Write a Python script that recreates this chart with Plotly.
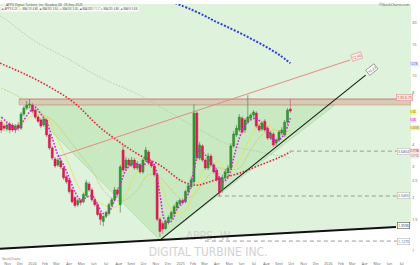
import math
import pandas as pd
import plotly.graph_objects as go

# ---------------- data ----------------
first_week = "2023-10-16"
opens  = [5.39,5.12,4.92,5.25,5.19,4.86,5.19,4.98,5.99,6.48,6.75,6.75,6.31,5.76,5.54,5.19,5.54,4.55,3.84,3.32,
          3.07,3.23,2.95,2.63,2.52,2.21,2.00,1.82,1.92,1.89,2.05,2.39,2.21,1.94,1.82,1.62,1.46,1.56,1.62,1.82,
          1.94,2.21,1.82,3.73,2.95,3.27,3.07,3.27,2.95,3.07,2.80,3.27,3.64,3.19,3.03,2.70,1.50,1.42,1.33,1.44,
          1.52,1.62,1.75,1.85,1.92,1.89,2.16,2.30,2.46,6.07,3.36,3.94,3.27,2.95,3.45,3.07,2.87,2.59,2.21,2.59,
          2.77,2.95,3.94,4.55,4.86,5.68,4.86,5.39,5.68,5.91,6.07,5.12,4.92,5.46,4.98,4.37,4.61,4.09,4.26,4.67,
          4.55,5.39,6.40]
highs  = [5.54,5.25,5.39,5.39,5.32,5.25,5.39,6.15,6.66,7.11,7.30,6.93,6.48,5.91,5.68,5.76,5.68,4.67,3.94,3.41,
          3.36,3.32,3.03,2.70,2.59,2.27,2.05,1.97,1.97,2.13,2.52,2.46,2.27,2.00,1.87,1.66,1.58,1.68,1.87,2.00,
          2.30,2.27,3.07,3.99,3.41,3.36,3.41,3.36,3.23,3.15,3.36,3.89,3.73,3.27,3.11,2.77,1.54,1.46,1.50,1.58,
          1.68,1.82,1.92,1.97,1.97,2.21,2.43,2.63,6.83,6.23,4.15,4.04,3.36,3.59,3.55,3.15,2.95,2.66,2.70,2.91,
          3.07,4.09,4.79,5.19,5.99,5.83,5.68,7.69,6.07,6.31,6.23,5.25,5.46,5.61,5.12,4.79,4.73,4.37,4.86,5.05,
          5.54,6.48,7.30]
lows   = [4.67,4.79,4.79,4.67,4.73,4.67,4.79,4.86,5.83,6.31,6.48,6.07,5.61,5.32,4.98,5.05,4.43,3.73,3.27,2.95,
          2.99,2.91,2.52,2.39,2.10,1.85,1.75,1.77,1.80,1.85,2.00,2.16,1.89,1.77,1.56,1.39,1.37,1.52,1.58,1.77,
          1.89,2.02,1.64,2.80,2.84,2.95,2.99,2.87,2.87,2.73,2.73,3.19,3.07,2.95,2.63,1.46,1.19,1.24,1.30,1.40,
          1.48,1.58,1.71,1.80,1.82,1.85,2.10,2.24,2.39,3.27,3.27,3.19,2.87,2.87,2.99,2.73,2.46,2.02,2.13,2.52,
          2.70,2.87,3.84,4.43,4.73,4.61,4.67,5.25,5.54,5.76,4.98,4.73,4.79,4.73,4.26,4.26,3.89,3.94,4.15,4.55,
          4.43,5.25,6.07]
closes = [4.86,4.98,5.19,4.86,4.86,5.12,4.98,5.99,6.48,6.75,6.83,6.23,5.76,5.46,5.12,5.61,4.55,3.84,3.36,3.03,
          3.27,2.99,2.59,2.46,2.16,1.89,1.80,1.92,1.87,2.08,2.43,2.21,1.94,1.82,1.60,1.50,1.56,1.64,1.82,1.94,
          2.21,2.10,2.99,2.87,3.27,3.07,3.27,2.95,3.11,2.80,3.27,3.73,3.15,3.03,2.70,1.50,1.28,1.32,1.46,1.54,
          1.64,1.77,1.87,1.92,1.87,2.16,2.33,2.52,6.07,3.36,3.99,3.27,2.95,3.45,3.07,2.80,2.52,2.13,2.59,2.80,
          2.95,3.94,4.61,4.98,5.76,4.73,5.54,5.76,5.91,6.15,5.12,4.86,5.32,4.86,4.37,4.67,3.99,4.26,4.73,4.86,
          5.39,6.31,6.23]

ma5_idx  = list(range(0, 103, 2))
ma5_vals = [5.76,5.39,5.05,4.98,5.54,6.15,6.57,5.99,5.39,4.37,3.50,3.07,2.59,2.16,1.94,2.00,2.05,1.82,1.62,1.66,
            1.94,2.36,2.87,3.07,3.11,3.03,3.27,3.07,2.08,1.46,1.46,1.71,1.87,2.10,2.87,3.73,3.50,3.19,2.80,2.46,
            2.59,3.36,4.37,5.19,5.54,5.68,5.25,4.86,4.26,4.26,4.67,5.68]

ma10_idx  = [0,4,8,12,16,20,24,28,32,36,40,44,48,52,56,60,64,68,72,76,80,84,88,92,96,100,102]
ma10_vals = [5.54,5.12,5.39,5.99,5.68,4.26,3.07,2.21,2.00,1.82,1.75,2.08,2.80,3.07,2.46,1.71,1.64,2.08,2.95,3.19,
             2.80,3.27,4.43,5.39,4.98,4.55,4.86]

ma20_idx  = [0,7,12,18,24,28,32,36,40,44,48,52,56,60,64,68,72,76,80,84,88,92,96,100,102]
ma20_vals = [8.44,7.40,6.31,5.54,4.26,3.50,2.87,2.21,1.94,1.94,2.21,2.70,2.59,2.21,1.94,2.08,2.52,2.95,2.87,2.95,
             3.73,4.55,4.86,4.73,4.86]

ma30_dates = ["2023-10-13","2023-12-13","2024-02-13","2024-04-14","2024-06-15","2024-08-03","2024-09-22",
              "2024-11-11","2025-01-07","2025-02-10","2025-03-14","2025-04-15","2025-05-28","2025-07-16",
              "2025-09-03","2025-09-29"]
ma30_vals  = [11.7,10.15,8.55,6.93,5.05,4.15,3.49,3.06,2.46,2.35,2.46,2.59,2.76,3.06,3.40,3.64]

ma50_dates = ["2023-10-13","2023-10-30","2024-01-02","2024-03-26","2024-06-15","2024-09-22","2025-02-18",
              "2025-05-03","2025-07-16","2025-09-29"]
ma50_vals  = [21.8,20.6,15.9,12.5,9.75,7.69,4.86,3.99,3.64,3.36]

ma200_dates = ["2024-12-18","2025-01-24","2025-03-02","2025-03-22","2025-04-21","2025-05-28","2025-07-04",
               "2025-08-05","2025-09-03","2025-09-29"]
ma200_vals  = [25.8,23.9,21.8,20.6,19.1,17.4,15.7,14.3,13.0,11.7]

band_dates = ["2023-11-29", "2026-07-24"]
band_low, band_high = 6.75, 7.30

cup_dates = ["2023-12-13", "2024-11-11", "2026-01-17"]
cup_vals  = [6.76, 1.14, 6.76]

support_dates = ["2023-10-13", "2026-06-17"]
support_vals  = [1.02, 1.355]
support_ext_date, support_ext_val = "2026-07-24", 1.371

rising_dates = ["2024-11-11", "2026-04-03"]
rising_vals  = [1.142, 10.0]

red_trend_dates = ["2024-03-02", "2026-02-23"]
red_trend_vals  = [3.41, 12.2]

hlines = [("2025-09-28", 3.68, "3.6804"), ("2025-04-03", 2.04, "2.0400"), ("2025-03-02", 1.127, "1.1270")]
hline_end = "2026-06-19"

right_labels = [(11.57, "12.78", "#3050e0", "#dfe6ff"), (6.15, "5.96", "#8a7f00", "#f5f07a"),
                (5.54, "5.68", "#c020c0", "#f4d6f4"), (5.0, "5.0058", "#6a6a10", "#f0f0b0"),
                (3.68, "3.7798", "#d02020", "#fadada"), (3.47, "3.0736", "#777777", "#eeeeee")]

legend_items = [("APPS 6.23", "#e8174f"), ("MA(10) 4.86", "#e6e600"), ("MA(30) 3.64", "#e02030"),
                ("MA(50) 3.36", "#aaaaaa"), ("MA(200) 11.7", "#2040e0"), ("MA(20) 4.86", "#b5b54a"),
                ("MA(5) 5.68", "#d020d0")]
legend_px = [1, 19, 39, 59, 79, 100, 120]

month_ticks = pd.date_range("2023-11-01", "2026-07-01", freq="MS")
month_text = ["Nov","Dec","2024","Feb","Mar","Apr","May","Jun","Jul","Aug","Sept","Oct","Nov","Dec",
              "2025","Feb","Mar","Apr","May","Jun","Jul","Aug","Sept","Oct","Nov","Dec",
              "2026","Feb","Mar","Apr","May","Jun","Jul"]
y_ticks = [1, 1.5, 2, 2.5, 3, 4, 8, 10, 15, 20]

# ---------------- figure ----------------
dates = pd.date_range(first_week, periods=len(closes), freq="7D")
x_start, x_end = "2023-10-13", "2026-07-24"
top_val = 40

fig = go.Figure()

# green background above support line
fig.add_trace(go.Scatter(
    x=[support_dates[0], support_dates[1], support_ext_date, support_ext_date, support_dates[0]],
    y=[support_vals[0], support_vals[1], support_ext_val, top_val, top_val],
    fill="toself", fillcolor="#dff2dc", line=dict(width=0), mode="lines", hoverinfo="skip"))

# cup triangle
fig.add_trace(go.Scatter(x=cup_dates + [cup_dates[0]], y=cup_vals + [cup_vals[0]],
    fill="toself", fillcolor="#c8e9c1", line=dict(color="#a6d49e", width=0.6), mode="lines"))

# watermark
fig.add_trace(go.Scatter(x=["2025-03-10", "2025-03-10"], y=[1.19, 0.958], mode="text",
    text=["APPS, W", "DIGITAL TURBINE INC."], cliponaxis=False,
    textfont=dict(family="Liberation Sans Narrow, DejaVu Sans Condensed, Arial", size=12, color="#d2d2d2")))

# resistance band
fig.add_trace(go.Scatter(x=[band_dates[0], band_dates[1], band_dates[1], band_dates[0], band_dates[0]],
    y=[band_low, band_low, band_high, band_high, band_low], fill="toself",
    fillcolor="rgba(200,140,115,0.38)", line=dict(color="rgba(200,130,110,0.7)", width=0.6), mode="lines"))
fig.add_trace(go.Scatter(x=band_dates, y=[band_high, band_high], mode="lines",
    line=dict(color="#d98b80", width=1)))

# horizontal dashed lines
for d, v, t in hlines:
    fig.add_trace(go.Scatter(x=[d, hline_end], y=[v, v], mode="lines",
        line=dict(color="#9a9a9a", width=1, dash="4px,3px")))

# moving averages (behind candles)
fig.add_trace(go.Scatter(x=ma50_dates, y=ma50_vals, mode="lines",
    line=dict(color="#b9c9b0", width=1, dash="1.5px,1.5px", shape="spline")))
fig.add_trace(go.Scatter(x=dates[ma20_idx], y=ma20_vals, mode="lines",
    line=dict(color="#c8c860", width=0.8, dash="2px,1px", shape="spline")))
fig.add_trace(go.Scatter(x=dates[ma10_idx], y=ma10_vals, mode="lines",
    line=dict(color="#e4e44a", width=0.8, shape="spline")))
fig.add_trace(go.Scatter(x=ma30_dates, y=ma30_vals, mode="lines",
    line=dict(color="#e02838", width=1.6, dash="1.6px,1.6px", shape="spline")))
fig.add_trace(go.Scatter(x=ma200_dates, y=ma200_vals, mode="lines",
    line=dict(color="#2a3fe0", width=2, dash="2px,1.6px", shape="spline")))

# trend lines
fig.add_trace(go.Scatter(x=red_trend_dates, y=red_trend_vals, mode="lines",
    line=dict(color="#e88a84", width=1)))
fig.add_trace(go.Scatter(x=rising_dates, y=rising_vals, mode="lines",
    line=dict(color="#1a1a1a", width=1.1)))
fig.add_trace(go.Scatter(x=support_dates, y=support_vals, mode="lines",
    line=dict(color="#111111", width=2)))

# candles drawn as scatter shapes (so they sit above the filled backgrounds)
half = pd.Timedelta(hours=60)
groups = {True: ([], [], [], []), False: ([], [], [], [])}
for d, o, h, l, c in zip(dates, opens, highs, lows, closes):
    up = c >= o
    wx, wy, bx, by = groups[up]
    wx += [d, d, None]
    wy += [l, h, None]
    lo, hi = min(o, c), max(o, c)
    bx += [d - half, d + half, d + half, d - half, d - half, None]
    by += [lo, lo, hi, hi, lo, None]
styles = {True: ("#5f8f5f", "#2e9e2e", "#2f7a2f"), False: ("#c07088", "#e8174f", "#c01848")}
for up in (True, False):
    wx, wy, bx, by = groups[up]
    wick_c, fill_c, edge_c = styles[up]
    fig.add_trace(go.Scatter(x=wx, y=wy, mode="lines", line=dict(color=wick_c, width=0.8)))
    fig.add_trace(go.Scatter(x=bx, y=by, mode="lines", fill="toself", fillcolor=fill_c,
                             line=dict(color=edge_c, width=0.5)))

fig.add_trace(go.Scatter(x=dates[ma5_idx], y=ma5_vals, mode="lines",
    line=dict(color="#d420d4", width=1.6, dash="1.6px,1.6px", shape="spline")))

L = math.log10
ann = []
ann.append(dict(x="2026-07-09", y=L(7.49), text="7.30-6.75", font=dict(size=3.5, color="#c04040"),
                bgcolor="#fbe9e7", bordercolor="#e08080", borderwidth=0.5, borderpad=0.5, showarrow=False))
for d, v, t in hlines:
    ann.append(dict(x="2026-07-06", y=L(v), text=t, font=dict(size=3.5, color="#555"),
                    bgcolor="#ffffff", bordercolor="#aaaaaa", borderwidth=0.5, borderpad=0.5, showarrow=False))
ann.append(dict(x="2026-07-06", y=L(1.39), text="1.3596", font=dict(size=3.5, color="#333"),
                bgcolor="#ffffff", bordercolor="#333333", borderwidth=0.5, borderpad=0.5, showarrow=False))
ann.append(dict(x="2026-03-12", y=L(12.85), text="12.40", textangle=-18, font=dict(size=3.5, color="#c04040"),
                bgcolor="#fdeeee", bordercolor="#e08080", borderwidth=0.5, borderpad=0.5, showarrow=False))
ann.append(dict(x="2026-04-18", y=L(10.83), text="10.23", textangle=-38, font=dict(size=3.5, color="#333"),
                bgcolor="#ffffff", bordercolor="#555555", borderwidth=0.5, borderpad=0.5, showarrow=False))
for v, t, c, bg in right_labels:
    ann.append(dict(xref="paper", x=1.0, xanchor="left", xshift=-2, y=L(v), text=t,
                    font=dict(size=2.8, color=c), bgcolor=bg, borderpad=0.1, showarrow=False))
ann.append(dict(xref="paper", yref="paper", x=0.01, y=1.0, yshift=4, xanchor="left", yanchor="top",
                text="APPS Digital Turbine, Inc. Nasdaq GS  29-Sep-2025",
                font=dict(size=3.3, color="#555"), showarrow=False))
ann.append(dict(xref="paper", yref="paper", x=1.0, y=1.0, yshift=4, xanchor="right", yanchor="top",
                text="©StockCharts.com", font=dict(size=3.5, color="#555"), showarrow=False))
for (t, c), px in zip(legend_items, legend_px):
    ann.append(dict(xref="paper", yref="paper", x=px / 411, y=1.0, yshift=-1.5, xanchor="left", yanchor="top",
                    text="<span style='color:%s'>■</span> %s" % (c, t), font=dict(size=2.8, color="#444"),
                    bgcolor="rgba(255,255,255,0.85)", borderpad=0.1, showarrow=False))
ann.append(dict(xref="paper", yref="paper", x=0.0, y=0.0, yshift=-2, xanchor="left", yanchor="middle",
                text="StockCharts", font=dict(size=3.3, color="#777"), showarrow=False))

fig.update_layout(
    width=420, height=265, autosize=False,
    margin=dict(l=0, r=9, t=4, b=9),
    paper_bgcolor="#ffffff", plot_bgcolor="#ffffff",
    showlegend=False, annotations=ann,
    xaxis=dict(type="date", range=[x_start, x_end], tickvals=month_ticks, ticktext=month_text,
               tickfont=dict(size=3.6, color="#666"), showgrid=False, zeroline=False, ticks="",
               ticklabelstandoff=4, fixedrange=True),
    yaxis=dict(type="log", range=[L(0.926), L(25.5)], side="right", tickvals=y_ticks,
               ticktext=[str(v) for v in y_ticks], tickfont=dict(size=4, color="#666"),
               showgrid=False, zeroline=False, ticks=""),
)

fig.write_html("out.html")
